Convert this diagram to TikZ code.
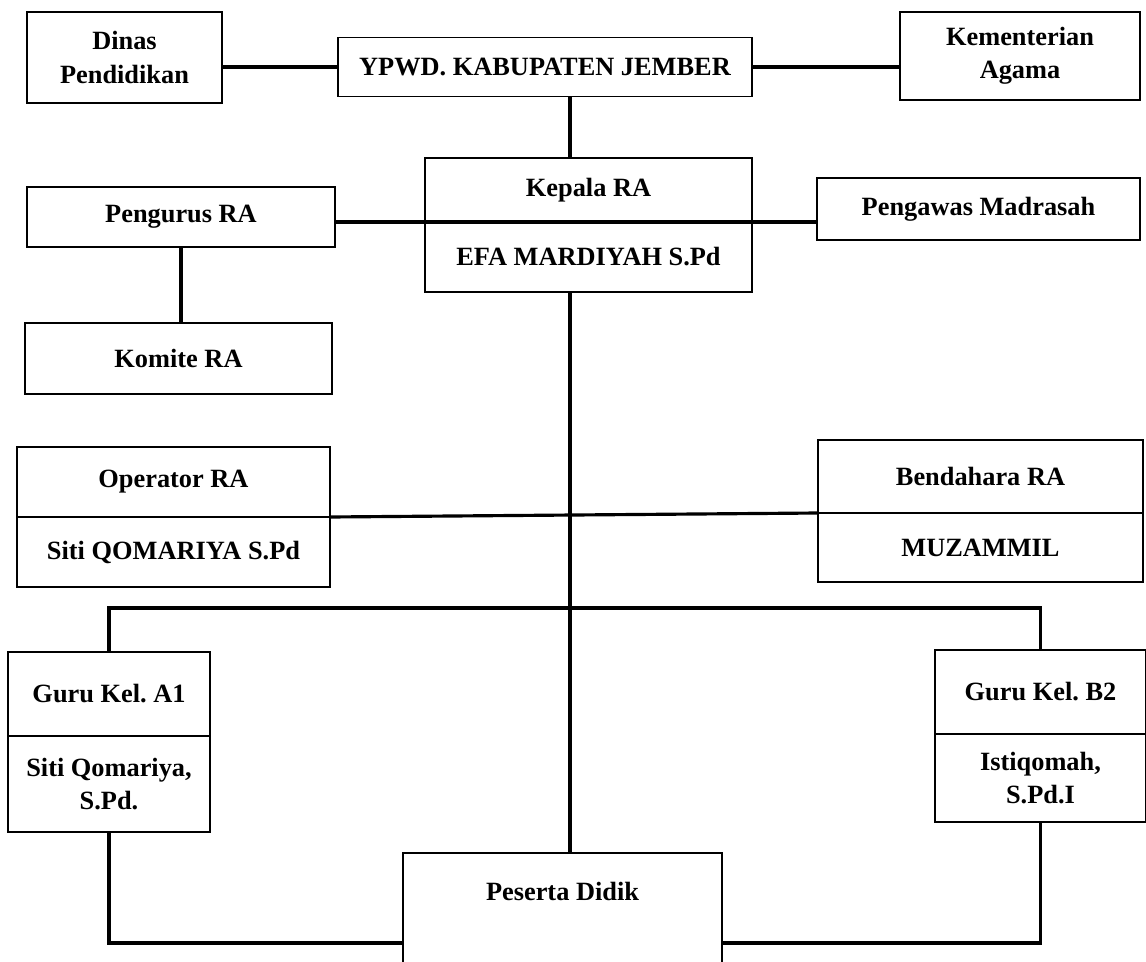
\documentclass[tikz,border=0pt]{standalone}
\usepackage{fontspec}
\setmainfont{Liberation Serif}
\usetikzlibrary{positioning}

\tikzset{
  kotak/.style={draw, line width=1pt, outer sep=0pt, inner sep=0pt,
    align=center, font=\bfseries\frenchspacing\fontsize{15}{19}\selectfont},
  garis/.style={line width=1.8pt},
}

\begin{document}
\begin{tikzpicture}[x=0.02cm,y=-0.02cm]
\useasboundingbox (0,0) rectangle (1146,961);

% Yayasan dan instansi
\node[kotak, minimum width=3.9cm, minimum height=1.82cm] (dinas) at (124.5,57.5) {Dinas\\Pendidikan};
\node[kotak, minimum width=8.28cm, minimum height=1.18cm] (ypwd) at (545,67) {YPWD. KABUPATEN JEMBER};
\node[kotak, minimum width=4.8cm, minimum height=1.76cm] (kemenag) at (1020,56) {Kementerian\\Agama};

% Kepala RA
\node[kotak, minimum width=6.54cm, minimum height=1.28cm] (kepala) at (588.5,190) {Kepala RA};
\node[kotak, minimum width=6.54cm, minimum height=1.4cm, below=0pt of kepala] (kepalanama) {EFA MARDIYAH S.Pd};

\node[kotak, minimum width=6.16cm, minimum height=1.2cm] (pengurus) at (181,217) {Pengurus RA};
\node[kotak, minimum width=6.46cm, minimum height=1.24cm] (pengawas) at (978.5,209) {Pengawas Madrasah};
\node[kotak, minimum width=6.14cm, minimum height=1.42cm] (komite) at (178.5,358.5) {Komite RA};

% Operator dan bendahara
\node[kotak, minimum width=6.26cm, minimum height=1.4cm] (operator) at (173.5,482) {Operator RA};
\node[kotak, minimum width=6.26cm, minimum height=1.4cm, below=0pt of operator] (operatornama) {Siti QOMARIYA S.Pd};
\node[kotak, minimum width=6.5cm, minimum height=1.46cm] (bendahara) at (980.5,476.5) {Bendahara RA};
\node[kotak, minimum width=6.5cm, minimum height=1.38cm, below=0pt of bendahara] (bendaharanama) {MUZAMMIL};

% Guru kelompok
\node[kotak, minimum width=4.04cm, minimum height=1.68cm] (guruA) at (109,694) {Guru Kel. A1};
\node[kotak, minimum width=4.04cm, minimum height=1.92cm, below=0pt of guruA] (guruAnama) {Siti Qomariya,\\S.Pd.};
\node[kotak, minimum width=4.22cm, minimum height=1.68cm] (guruB) at (1040.5,692) {Guru Kel. B2};
\node[kotak, minimum width=4.22cm, minimum height=1.76cm, below=0pt of guruB] (guruBnama) {Istiqomah,\\S.Pd.I};

% Peserta didik
\node[kotak, minimum width=6.38cm, text height=0.94cm, text depth=2cm, anchor=north] (peserta) at (562.5,853) {Peserta Didik};

% Garis
\coordinate (batang) at (570,0);
\coordinate (siku) at (0,608);
\coordinate (kaki) at (0,943);

\draw[garis] (dinas.east |- ypwd.west) -- (ypwd.west);
\draw[garis] (ypwd.east) -- (kemenag.west |- ypwd.east);
\draw[garis] (ypwd.south -| batang) -- (kepala.north -| batang);
\draw[garis] (kepala.south -| pengurus.east) -- (kepala.south -| pengawas.west);
\draw[garis] (pengurus.south) -- (pengurus.south |- komite.north);
\draw[garis] (operator.south east) -- (bendahara.south west);
\draw[garis] (kepalanama.south -| batang) -- (peserta.north -| batang);
\draw[garis] (guruA.north) -- (guruA.north |- siku) -- (guruB.north |- siku) -- (guruB.north);
\draw[garis] (guruAnama.south) -- (guruAnama.south |- kaki) -- (peserta.west |- kaki);
\draw[garis] (guruBnama.south) -- (guruBnama.south |- kaki) -- (peserta.east |- kaki);

\end{tikzpicture}
\end{document}
